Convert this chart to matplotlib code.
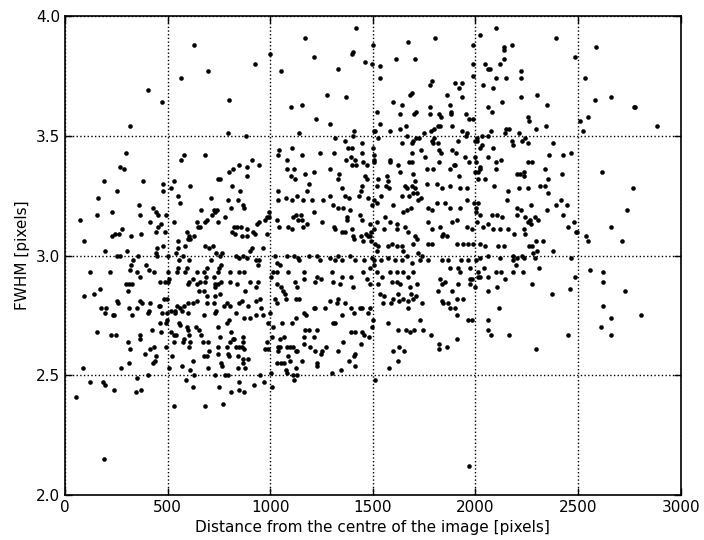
import matplotlib
matplotlib.use("Agg")
import matplotlib.pyplot as plt

# values, grouped by region of the plot

# top left
dist_a = [405, 473, 629, 698, 566, 317, 298, 580, 566, 683, 268, 288]
fwhm_a = [3.69, 3.64, 3.88, 3.77, 3.74, 3.54, 3.43, 3.42, 3.40, 3.42, 3.37, 3.36]

# top, 750-1500
dist_b = [1420, 1171, 1502, 1000, 927, 1215, 1405, 1400, 1463, 1498,
          1332, 1054, 800, 1278, 1371, 1102, 1156, 1224, 1293, 795,
          883, 1141, 1410, 1507, 1317, 1366, 1405, 1449, 1044, 1039,
          1107, 1156, 1244, 1312, 1380, 1400, 1449, 1502, 1507, 1395,
          1371, 1415, 1420, 1400, 1454, 1473, 1083, 946, 912, 888,
          849, 820, 800, 888, 756, 1083, 1117, 1102, 1122, 1171,
          1215, 1293, 1337, 1332, 1463, 1473]
fwhm_b = [3.95, 3.91, 3.88, 3.84, 3.80, 3.83, 3.85, 3.84, 3.81, 3.80,
          3.78, 3.77, 3.65, 3.67, 3.66, 3.62, 3.63, 3.57, 3.55, 3.51,
          3.50, 3.51, 3.52, 3.52, 3.49, 3.48, 3.50, 3.47, 3.44, 3.42,
          3.45, 3.42, 3.43, 3.43, 3.45, 3.45, 3.43, 3.45, 3.42, 3.41,
          3.40, 3.40, 3.38, 3.38, 3.39, 3.38, 3.40, 3.38, 3.40, 3.37,
          3.38, 3.36, 3.35, 3.33, 3.32, 3.36, 3.36, 3.33, 3.32, 3.34,
          3.35, 3.36, 3.34, 3.32, 3.33, 3.32]

# top, 1500-2250
dist_c = [2102, 2020, 1805, 1673, 1990, 2180, 2137, 2137, 1615, 1707,
          1537, 1537, 1990, 2049, 2059, 2073, 2122, 2137, 1990, 2102,
          2151, 2220, 2220, 1790, 1780, 1902, 1922, 1937, 2039, 2088,
          1693, 1683, 1863, 1937, 2132, 2224, 1600, 1644, 1780, 1878,
          2063, 2083, 2258, 2263, 1522, 1634, 1702, 1712, 1780, 1824,
          1834, 1883, 1883, 1956, 1971, 1990, 1512, 1537, 1585, 1634,
          1663, 1751, 1785, 1800, 1819, 1829, 1887, 1937, 1961, 1956,
          2078, 2151, 2166, 2210, 2244, 2229, 2258, 2146, 2059, 2034,
          1527, 1668, 1698, 1712, 1727, 1644, 1693, 1800, 1790, 1795,
          1819, 1917, 2000, 2010, 2010, 2024, 2034, 2088, 2185, 2180,
          1507, 1507, 1585, 1585, 1624, 1678, 1693, 1693, 1736, 1756,
          1824, 1834, 1824, 1887, 1907, 1897, 1902, 1951, 1971, 2000,
          2005, 2059, 2098, 2127, 2254, 1634, 1698, 1766, 1795, 1878,
          1922, 2000, 2015, 2024, 2024, 2049, 2098, 2205, 2215, 2239,
          2239, 1527, 1571]
fwhm_c = [3.95, 3.92, 3.91, 3.89, 3.88, 3.88, 3.87, 3.86, 3.82, 3.82,
          3.79, 3.74, 3.80, 3.80, 3.78, 3.78, 3.80, 3.82, 3.75, 3.74,
          3.74, 3.77, 3.74, 3.73, 3.71, 3.72, 3.70, 3.72, 3.71, 3.70,
          3.68, 3.67, 3.67, 3.66, 3.64, 3.66, 3.64, 3.63, 3.62, 3.63,
          3.62, 3.60, 3.58, 3.56, 3.60, 3.59, 3.59, 3.60, 3.59, 3.59,
          3.58, 3.60, 3.59, 3.59, 3.57, 3.57, 3.52, 3.55, 3.52, 3.53,
          3.54, 3.51, 3.52, 3.53, 3.54, 3.54, 3.54, 3.52, 3.51, 3.50,
          3.52, 3.53, 3.53, 3.51, 3.49, 3.48, 3.47, 3.51, 3.50, 3.50,
          3.49, 3.50, 3.48, 3.49, 3.49, 3.47, 3.47, 3.49, 3.48, 3.47,
          3.47, 3.48, 3.48, 3.48, 3.49, 3.45, 3.46, 3.45, 3.46, 3.48,
          3.40, 3.39, 3.40, 3.39, 3.38, 3.39, 3.39, 3.43, 3.44, 3.41,
          3.44, 3.43, 3.39, 3.44, 3.43, 3.38, 3.38, 3.41, 3.39, 3.41,
          3.39, 3.41, 3.39, 3.40, 3.39, 3.35, 3.34, 3.36, 3.36, 3.36,
          3.33, 3.35, 3.35, 3.36, 3.37, 3.32, 3.36, 3.34, 3.34, 3.33,
          3.35, 3.32, 3.33]

# top right
dist_d = [2395, 2590, 2483, 2532, 2298, 2351, 2585, 2663, 2771, 2780,
          2551, 2512, 2293, 2346, 2522, 2883, 2380, 2361, 2429, 2468,
          2278, 2337, 2424, 2615, 2356]
fwhm_d = [3.91, 3.87, 3.83, 3.74, 3.67, 3.63, 3.65, 3.66, 3.62, 3.62,
          3.58, 3.56, 3.53, 3.54, 3.52, 3.54, 3.47, 3.42, 3.42, 3.43,
          3.39, 3.36, 3.34, 3.35, 3.32]

# middle left
dist_e = [190, 380, 532, 478, 478, 517, 551, 561, 610, 712,
          746, 254, 161, 73, 156, 229, 361, 366, 429, 444,
          454, 493, 415, 454, 468, 444, 532, 488, 93, 229,
          244, 263, 278, 322, 371, 195, 254, 268, 302, 356,
          444, 449, 449, 478, 502, 541, 551, 551, 576, 585,
          595, 605, 600, 610, 629, 649, 659, 644, 663, 683,
          683, 702, 722, 727, 732, 741, 737, 717, 693, 122,
          219, 322, 317, 332, 351, 366, 395, 410, 434, 463,
          488, 502, 507, 502, 546, 551, 556, 595, 605, 585,
          605, 600, 624, 644, 644, 659, 678, 688, 683, 693,
          712, 727, 732, 732, 746, 751, 298, 312, 327, 307,
          141, 171, 93, 176, 200, 195, 239, 234, 254, 259,
          312, 327, 351, 376, 366, 415, 410, 405, 459, 463,
          473, 463, 483, 497, 497, 497, 493, 517, 537, 537,
          546, 561, 580, 571, 600, 600, 624, 644, 654, 678,
          693, 693, 727, 732, 737, 732, 678, 156, 224, 249,
          366, 366, 424, 468, 517, 532, 541, 556, 561, 595,
          600, 605, 639, 654, 663, 746]
fwhm_e = [3.31, 3.31, 3.31, 3.30, 3.27, 3.28, 3.25, 3.22, 3.29, 3.24,
          3.32, 3.27, 3.24, 3.15, 3.17, 3.18, 3.21, 3.17, 3.20, 3.18,
          3.17, 3.17, 3.14, 3.12, 3.13, 3.10, 3.14, 3.10, 3.06, 3.08,
          3.09, 3.09, 3.11, 3.08, 3.09, 3.02, 3.00, 3.00, 3.02, 3.00,
          3.01, 3.00, 3.03, 3.04, 3.00, 3.01, 3.03, 3.06, 3.00, 3.04,
          3.10, 3.08, 3.07, 3.07, 3.08, 3.12, 3.12, 3.14, 3.19, 3.14,
          3.04, 3.03, 3.04, 3.19, 3.18, 3.19, 3.01, 3.17, 3.15, 2.93,
          2.93, 2.96, 2.94, 2.98, 2.93, 2.91, 2.96, 2.94, 2.93, 2.89,
          2.89, 2.89, 2.90, 2.93, 2.93, 2.95, 2.98, 2.95, 2.98, 2.93,
          2.89, 2.88, 2.90, 2.93, 2.88, 2.89, 2.93, 2.91, 2.89, 2.95,
          2.98, 2.91, 2.88, 2.87, 2.93, 2.95, 2.88, 2.88, 2.88, 2.85,
          2.84, 2.86, 2.83, 2.78, 2.78, 2.76, 2.75, 2.75, 2.81, 2.80,
          2.78, 2.75, 2.78, 2.80, 2.81, 2.80, 2.77, 2.76, 2.79, 2.79,
          2.76, 2.72, 2.82, 2.82, 2.76, 2.73, 2.72, 2.77, 2.76, 2.77,
          2.79, 2.78, 2.79, 2.77, 2.80, 2.76, 2.80, 2.81, 2.85, 2.85,
          2.83, 2.80, 2.80, 2.83, 2.77, 2.76, 2.75, 2.68, 2.67, 2.67,
          2.67, 2.65, 2.69, 2.68, 2.68, 2.67, 2.67, 2.72, 2.71, 2.70,
          2.69, 2.67, 2.70, 2.69, 2.67, 2.70]

# middle, 750-1500, upper half
dist_f = [815, 854, 795, 844, 810, 868, 873, 780, 746, 824,
          839, 859, 815, 888, 917, 829, 863, 888, 927, 985,
          937, 946, 976, 985, 995, 995, 1039, 1039, 1078, 1107,
          1132, 1161, 1180, 1205, 1190, 1259, 1293, 1351, 1366, 1385,
          1444, 1449, 1434, 1478, 1307, 1332, 1356, 1390, 1498, 1439,
          1376, 1376, 1449, 1127, 1151, 1137, 1156, 1215, 1112, 1034,
          1044, 1088, 1107, 1161, 1180, 1254, 1312, 1317, 1351, 1366,
          1400, 1405, 1410, 1444, 1454, 1468, 1478, 1488, 1493, 1493,
          1507]
fwhm_f = [3.29, 3.27, 3.23, 3.23, 3.20, 3.21, 3.20, 3.16, 3.14, 3.12,
          3.12, 3.12, 3.10, 3.11, 3.10, 3.09, 3.08, 3.08, 3.09, 3.09,
          3.13, 3.14, 3.15, 3.16, 3.18, 3.16, 3.27, 3.23, 3.24, 3.23,
          3.25, 3.23, 3.27, 3.23, 3.30, 3.23, 3.25, 3.28, 3.25, 3.24,
          3.27, 3.29, 3.25, 3.24, 3.21, 3.20, 3.20, 3.19, 3.21, 3.17,
          3.16, 3.15, 3.15, 3.17, 3.17, 3.15, 3.15, 3.18, 3.16, 3.15,
          3.12, 3.12, 3.11, 3.12, 3.13, 3.14, 3.12, 3.11, 3.10, 3.10,
          3.11, 3.08, 3.07, 3.08, 3.06, 3.09, 3.08, 3.08, 3.10, 3.06,
          3.11]

# middle, 750-1500, lower half
dist_g = [756, 766, 834, 849, 868, 888, 932, 946, 941, 902,
          912, 966, 1024, 1034, 1049, 1083, 1117, 1137, 1141, 1190,
          1229, 1244, 1293, 1317, 1332, 1351, 1390, 1415, 1458, 1498,
          1507, 761, 805, 805, 849, 873, 761, 746, 839, 878,
          902, 941, 932, 1005, 1015, 1034, 1034, 1054, 1088, 1122,
          1132, 1166, 1166, 1220, 1229, 1249, 1302, 1307, 1341, 1351,
          1395, 1405, 1454, 1488, 1473, 756, 790, 776, 805, 863,
          849, 893, 932, 951, 956, 800, 790, 834, 873, 902,
          932, 966, 1000, 1024, 1034, 1063, 1073, 1078, 1127, 1141,
          1166, 1176, 1215, 1220, 1268, 1293, 1327, 1332, 1366, 1395,
          1410, 1439, 1449, 1478, 1488, 810, 868, 990, 1015, 1059,
          1107, 1127, 1171, 1190, 1229, 1307, 1317, 1351, 1395, 1415,
          1449, 1458, 1498]
fwhm_g = [3.00, 3.01, 3.00, 2.99, 3.00, 2.99, 2.98, 2.98, 2.96, 3.02,
          3.03, 3.03, 3.00, 2.97, 2.96, 3.00, 3.00, 2.99, 2.98, 3.00,
          3.00, 2.98, 2.99, 2.98, 3.00, 2.98, 3.00, 2.98, 2.98, 2.99,
          2.96, 2.96, 2.93, 2.89, 2.93, 2.93, 2.89, 2.88, 2.88, 2.85,
          2.89, 2.89, 2.87, 2.91, 2.93, 2.93, 2.88, 2.87, 2.93, 2.89,
          2.87, 2.93, 2.90, 2.89, 2.91, 2.90, 2.93, 2.89, 2.88, 2.91,
          2.91, 2.87, 2.93, 2.88, 2.90, 2.84, 2.80, 2.79, 2.79, 2.81,
          2.80, 2.79, 2.81, 2.82, 2.78, 2.73, 2.72, 2.76, 2.74, 2.74,
          2.75, 2.75, 2.76, 2.82, 2.80, 2.85, 2.84, 2.82, 2.82, 2.82,
          2.76, 2.75, 2.78, 2.78, 2.78, 2.81, 2.80, 2.82, 2.80, 2.78,
          2.76, 2.78, 2.78, 2.76, 2.78, 2.68, 2.66, 2.72, 2.70, 2.72,
          2.72, 2.74, 2.69, 2.69, 2.69, 2.72, 2.72, 2.75, 2.68, 2.68,
          2.68, 2.67, 2.70]

# middle, 1500-2250
dist_h = [1576, 1522, 1566, 1580, 1659, 1668, 1693, 1707, 1698, 1678,
          1717, 1722, 1736, 1707, 1766, 1815, 1839, 1878, 1927, 1961,
          2015, 2093, 2161, 2210, 2254, 1507, 1522, 1541, 1600, 1644,
          1649, 1668, 1688, 1771, 1790, 1815, 1854, 1878, 1927, 1961,
          1995, 2005, 2015, 2005, 2020, 2083, 2107, 2132, 2205, 2224,
          2205, 2156, 1522, 1561, 1585, 1556, 1620, 1620, 1659, 1673,
          1707, 1717, 1698, 1771, 1790, 1829, 1844, 1887, 1912, 1961,
          1985, 2010, 2039, 2063, 2088, 2122, 2161, 2190, 2239, 2254,
          1488, 1512, 1527, 1522, 1576, 1595, 1620, 1644, 1649, 1668,
          1722, 1741, 1771, 1790, 1839, 1863, 1912, 1941, 1966, 1990,
          2024, 2049, 2112, 2137, 2185, 2205, 2229, 1507, 1541, 1576,
          1610, 1644, 1693, 1732, 1771, 1839, 1868, 1932, 1966, 2005,
          2020, 2063, 2122, 2185, 2200, 2239, 1488, 1522, 1546, 1585,
          1620, 1649, 1673, 1698, 1878, 1917, 1927, 1976, 1985, 2015,
          2024, 2044, 2059, 2098, 2127, 2146, 2185, 2234, 1527, 1595,
          1620, 1634, 1683, 1717, 1829, 1839, 1854, 1917, 1976, 1976,
          2000, 2015, 2059, 2107, 1537, 1556, 1600, 1624, 1649, 1688,
          1698, 1712, 1590, 1629, 1673, 1819, 1887, 1839, 1844, 1868,
          1912, 1941, 1551, 1673, 1741, 1878, 1902, 1912, 1966, 1985,
          2117, 1502, 1576, 1732, 1624, 1663, 1683, 1702, 1746, 2059,
          2063]
fwhm_h = [3.31, 3.29, 3.29, 3.28, 3.29, 3.28, 3.29, 3.28, 3.26, 3.25,
          3.26, 3.23, 3.24, 3.31, 3.30, 3.30, 3.28, 3.29, 3.28, 3.28,
          3.32, 3.29, 3.27, 3.28, 3.28, 3.23, 3.22, 3.25, 3.21, 3.25,
          3.18, 3.19, 3.20, 3.20, 3.19, 3.22, 3.22, 3.20, 3.20, 3.23,
          3.22, 3.20, 3.22, 3.18, 3.17, 3.17, 3.17, 3.16, 3.20, 3.19,
          3.17, 3.23, 3.14, 3.16, 3.14, 3.11, 3.13, 3.11, 3.12, 3.10,
          3.08, 3.07, 3.05, 3.14, 3.11, 3.12, 3.09, 3.14, 3.15, 3.12,
          3.11, 3.14, 3.12, 3.13, 3.11, 3.11, 3.11, 3.09, 3.11, 3.14,
          3.13, 3.05, 3.04, 3.02, 3.04, 3.05, 3.04, 3.04, 3.02, 3.00,
          3.01, 3.00, 3.05, 3.05, 3.08, 3.08, 3.05, 3.05, 3.05, 3.05,
          3.05, 3.04, 3.04, 3.04, 3.00, 2.99, 3.00, 2.98, 2.98, 2.99,
          2.98, 2.98, 2.97, 2.98, 2.98, 2.98, 2.98, 2.98, 2.98, 2.98,
          2.99, 3.00, 2.99, 2.98, 2.96, 2.99, 2.95, 2.93, 2.91, 2.93,
          2.93, 2.93, 2.91, 2.93, 2.95, 2.95, 2.93, 2.95, 2.90, 2.93,
          2.91, 2.95, 2.91, 2.93, 2.93, 2.90, 2.93, 2.93, 2.88, 2.89,
          2.89, 2.88, 2.87, 2.88, 2.90, 2.88, 2.89, 2.88, 2.90, 2.88,
          2.87, 2.91, 2.85, 2.87, 2.84, 2.83, 2.82, 2.84, 2.82, 2.84,
          2.82, 2.83, 2.80, 2.81, 2.81, 2.85, 2.85, 2.81, 2.80, 2.80,
          2.82, 2.82, 2.80, 2.78, 2.80, 2.78, 2.78, 2.75, 2.73, 2.73,
          2.78, 2.73, 2.72, 2.73, 2.69, 2.69, 2.68, 2.69, 2.69, 2.73,
          2.69]

# middle right
dist_i = [2317, 2341, 2356, 2766, 2415, 2395, 2444, 2273, 2351, 2429,
          2737, 2244, 2268, 2288, 2307, 2273, 2449, 2478, 2488, 2493,
          2659, 2244, 2537, 2551, 2712, 2263, 2278, 2293, 2327, 2298,
          2283, 2288, 2380, 2468, 2312, 2556, 2624, 2483, 2624, 2278,
          2459, 2727, 2371, 2624, 2659, 2805, 2610, 2659, 2449, 2293]
fwhm_i = [3.29, 3.29, 3.26, 3.28, 3.23, 3.21, 3.21, 3.21, 3.19, 3.17,
          3.19, 3.16, 3.15, 3.16, 3.15, 3.13, 3.12, 3.14, 3.10, 3.10,
          3.12, 3.09, 3.08, 3.06, 3.06, 3.04, 3.04, 3.06, 3.06, 3.02,
          3.01, 2.99, 3.02, 2.99, 2.95, 2.94, 2.93, 2.91, 2.89, 2.88,
          2.86, 2.85, 2.84, 2.79, 2.74, 2.75, 2.70, 2.67, 2.67, 2.61]

# bottom left
dist_j = [190, 54, 122, 88, 185, 195, 239, 273, 312, 351,
          346, 371, 405, 317, 307, 390, 415, 434, 444, 439,
          429, 493, 507, 522, 532, 532, 571, 576, 580, 590,
          605, 610, 610, 624, 629, 624, 673, 683, 698, 678,
          693, 702, 698, 746, 746, 751]
fwhm_j = [2.15, 2.41, 2.47, 2.53, 2.47, 2.46, 2.44, 2.53, 2.55, 2.49,
          2.43, 2.44, 2.50, 2.61, 2.64, 2.59, 2.61, 2.62, 2.58, 2.56,
          2.55, 2.62, 2.53, 2.58, 2.37, 2.64, 2.54, 2.64, 2.65, 2.48,
          2.62, 2.64, 2.52, 2.56, 2.50, 2.45, 2.64, 2.37, 2.64, 2.58,
          2.58, 2.60, 2.53, 2.59, 2.62, 2.45]

# bottom, 750-1500
dist_k = [771, 810, 873, 780, 795, 922, 951, 971, 1010, 1005,
          849, 849, 732, 1117, 1112, 1132, 1078, 1083, 1127, 1156,
          1034, 1054, 1068, 1098, 1088, 1229, 1229, 1302, 1346, 1415,
          1385, 1410, 1415, 1444, 1356, 1332, 1273, 1254, 1249, 1220,
          1195, 1166, 1215, 1166, 1127, 1132, 1112, 1098, 1083, 1049,
          1039, 1039, 990, 976, 985, 1010, 1049, 1068, 1483, 756,
          805, 820, 824, 790, 795, 800, 834, 849, 863, 873,
          868, 844, 868, 893, 868, 878, 844, 766, 761]
fwhm_k = [2.38, 2.43, 2.43, 2.50, 2.50, 2.46, 2.50, 2.47, 2.45, 2.51,
          2.47, 2.44, 2.50, 2.48, 2.50, 2.50, 2.52, 2.51, 2.53, 2.56,
          2.55, 2.55, 2.55, 2.56, 2.58, 2.54, 2.55, 2.51, 2.52, 2.54,
          2.56, 2.58, 2.59, 2.63, 2.64, 2.60, 2.62, 2.60, 2.59, 2.60,
          2.62, 2.63, 2.66, 2.66, 2.60, 2.60, 2.62, 2.62, 2.62, 2.62,
          2.60, 2.62, 2.61, 2.61, 2.64, 2.66, 2.65, 2.66, 2.66, 2.66,
          2.64, 2.65, 2.65, 2.62, 2.59, 2.58, 2.62, 2.62, 2.62, 2.61,
          2.64, 2.58, 2.57, 2.57, 2.55, 2.53, 2.53, 2.54, 2.55]

# bottom, 1500-2250
dist_l = [1971, 1512, 1580, 1600, 1624, 1629, 1654, 1785, 1824, 1824,
          1863, 1912, 2078, 2166]
fwhm_l = [2.12, 2.48, 2.53, 2.60, 2.56, 2.62, 2.60, 2.67, 2.63, 2.61,
          2.62, 2.65, 2.67, 2.67]

dist = (dist_a + dist_b + dist_c + dist_d + dist_e + dist_f + dist_g
        + dist_h + dist_i + dist_j + dist_k + dist_l)
fwhm = (fwhm_a + fwhm_b + fwhm_c + fwhm_d + fwhm_e + fwhm_f + fwhm_g
        + fwhm_h + fwhm_i + fwhm_j + fwhm_k + fwhm_l)

plt.rcParams['font.family'] = 'DejaVu Sans'
plt.rcParams['font.size'] = 11

fig = plt.figure(figsize=(7.04, 5.4), dpi=100)
ax = fig.add_axes([0.0923, 0.0833, 0.8745, 0.8870])

ax.plot(dist, fwhm, 'o', color='k', markersize=3.3, markeredgewidth=0)

ax.set_xlim(0, 3000)
ax.set_ylim(2.0, 4.0)
ax.set_xticks([0, 500, 1000, 1500, 2000, 2500, 3000])
ax.set_yticks([2.0, 2.5, 3.0, 3.5, 4.0])
ax.grid(True, color='k', linestyle=':', linewidth=1)
ax.tick_params(direction='in', top=True, right=True, length=5, width=1)
for s in ax.spines.values():
    s.set_linewidth(1.2)

ax.set_xlabel('Distance from the centre of the image [pixels]')
ax.set_ylabel('FWHM [pixels]')

fig.savefig('out.png', dpi=100)
